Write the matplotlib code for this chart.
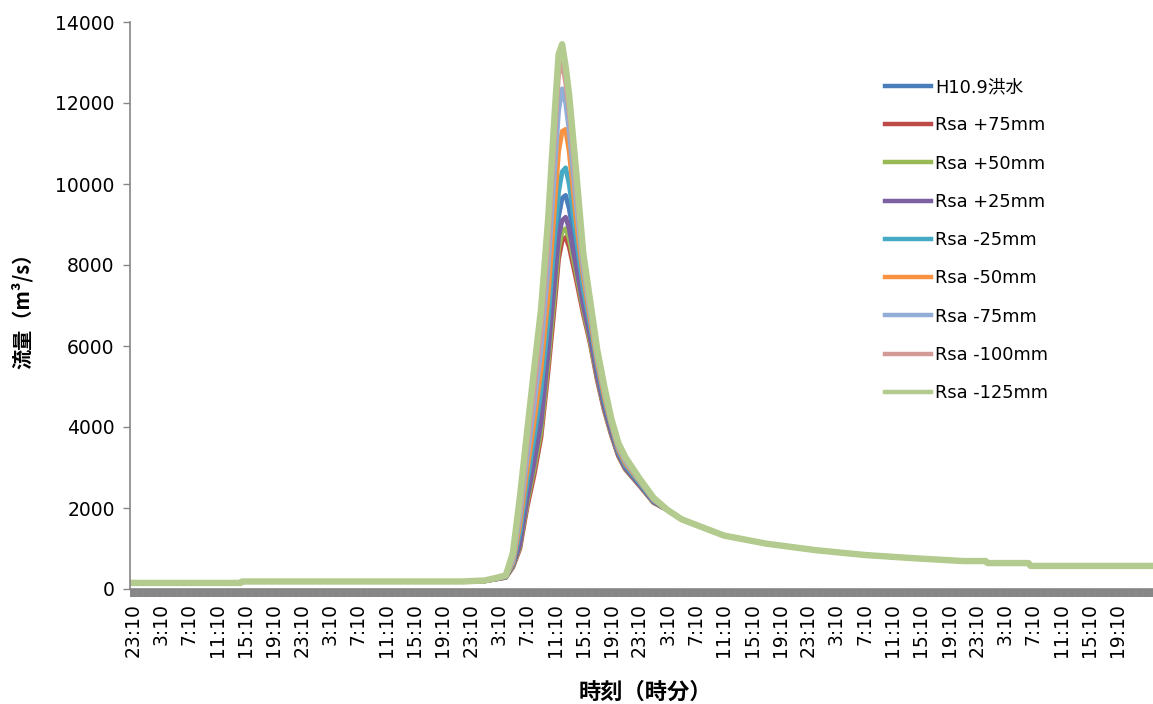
import numpy as np
import matplotlib
matplotlib.use("Agg")
import matplotlib.pyplot as plt
from matplotlib.ticker import MultipleLocator

# hours after 23:10 on the first day
t_before = [0.0, 15.3, 15.5, 47.0, 48.0]
q_before = [150, 150, 185, 185, 195]

t_event = [50, 52, 53, 54, 55, 56, 57, 58, 59, 60, 60.5, 61, 61.5, 62,
           63, 64, 65, 66, 67, 68, 69, 70, 72, 74]

q_h109 = [200, 262, 300, 600, 1250, 2400, 3400, 4500, 6200, 8200, 9200, 9650, 9720, 9400,
          8300, 7200, 6350, 5350, 4550, 3900, 3350, 3000, 2590, 2160]
q_p75 = [200, 255, 285, 540, 1000, 2000, 2800, 3750, 5350, 7150, 8150, 8600, 8680, 8450,
         7650, 6800, 6050, 5150, 4400, 3800, 3280, 2950, 2550, 2130]
q_p50 = [200, 258, 290, 560, 1050, 2100, 2950, 3900, 5550, 7400, 8400, 8820, 8900, 8650,
         7800, 6900, 6100, 5200, 4430, 3820, 3300, 2960, 2560, 2140]
q_p25 = [200, 260, 295, 580, 1100, 2200, 3100, 4100, 5800, 7700, 8700, 9100, 9180, 8900,
         7950, 7000, 6200, 5250, 4480, 3850, 3320, 2980, 2570, 2150]
q_m25 = [200, 265, 300, 620, 1400, 2600, 3700, 4900, 6600, 8800, 9800, 10300, 10400, 10000,
         8700, 7400, 6500, 5500, 4650, 4000, 3400, 3050, 2620, 2180]
q_m50 = [200, 270, 310, 650, 1600, 2900, 4100, 5400, 7200, 9600, 10800, 11300, 11350, 10800,
         9100, 7700, 6650, 5600, 4750, 4050, 3450, 3100, 2660, 2200]
q_m75 = [205, 275, 320, 700, 1800, 3200, 4500, 5900, 7900, 10500, 11800, 12350, 12000, 11300,
         9500, 7900, 6800, 5700, 4850, 4100, 3500, 3150, 2680, 2210]
q_m100 = [205, 280, 330, 780, 2000, 3500, 4900, 6400, 8500, 11300, 12700, 13000, 12500, 11800,
          9900, 8100, 6950, 5800, 4900, 4150, 3550, 3200, 2710, 2230]
q_m125 = [210, 290, 340, 890, 2270, 3850, 5400, 6900, 9100, 11900, 13200, 13450, 12900, 12200,
          10300, 8300, 7100, 5900, 5000, 4200, 3600, 3250, 2730, 2250]

t_after = [76, 78, 84, 90, 97, 104, 111, 118, 121.2, 121.5, 127.3, 127.6, 145.5]
q_after = [1950, 1720, 1320, 1120, 960, 840, 760, 690, 690, 640, 640, 570, 570]

series_names = ["H10.9洪水", "Rsa +75mm", "Rsa +50mm", "Rsa +25mm", "Rsa -25mm",
                "Rsa -50mm", "Rsa -75mm", "Rsa -100mm", "Rsa -125mm"]
series_values = [q_h109, q_p75, q_p50, q_p25, q_m25, q_m50, q_m75, q_m100, q_m125]
series_colors = ["#4A7EBB", "#BE4B48", "#98B954", "#7D60A0", "#46AAC5",
                 "#F69240", "#92AED6", "#D49A98", "#B3CB8E"]

tick_labels = ["23:10", "3:10", "7:10", "11:10", "15:10", "19:10"] * 6

cjk = ["Noto Sans CJK JP", "DejaVu Sans"]
latin_first = ["DejaVu Sans", "Noto Sans CJK JP"]

fig = plt.figure(figsize=(11.53, 7.04), dpi=100)
ax = fig.add_axes([130 / 1153, 1 - 589 / 704, 1 - 130 / 1153, 567 / 704])

for name, vals, color in zip(series_names, series_values, series_colors):
    t = t_before + t_event + t_after
    q = q_before + vals + q_after
    lw = 4.6 if name == "Rsa -125mm" else 3.4
    ax.plot(t, q, color=color, lw=lw, label=name, solid_joinstyle="round")

ax.set_ylim(0, 14000)
ax.set_xlim(-0.43, 145.0)
ax.yaxis.set_major_locator(MultipleLocator(2000))
ax.set_xticks(np.arange(len(tick_labels)) * 4)
ax.set_xticklabels(tick_labels, rotation=90)
ax.xaxis.set_minor_locator(MultipleLocator(1 / 6))

grey = "#868686"
for side in ("top", "right"):
    ax.spines[side].set_visible(False)
ax.spines["left"].set_color(grey)
ax.spines["bottom"].set_color(grey)
ax.spines["left"].set_linewidth(1.2)
ax.spines["bottom"].set_linewidth(1.2)
ax.tick_params(axis="y", colors=grey, length=5, width=1.0, labelcolor="black",
               labelsize=13.5, pad=6)
ax.tick_params(axis="x", which="both", colors=grey, length=6, width=1.4,
               labelcolor="black", labelsize=13.5, pad=4)

ax.set_ylabel("流量（m³/s）", family=cjk, fontsize=14.5, fontweight="bold")
ax.yaxis.set_label_coords(-0.095, 0.5)
fig.text(645 / 1153, 1 - 692 / 704, "時刻（時分）", family=cjk, fontsize=16,
         fontweight="bold", ha="center", va="center")

leg = ax.legend(loc="upper left", bbox_to_anchor=(885 / 1153, 1 - 78 / 704),
                bbox_transform=fig.transFigure, frameon=False, borderpad=0,
                borderaxespad=0, handlelength=2.6, handletextpad=0.2,
                labelspacing=1.14, prop={"family": latin_first, "size": 12.8})
for h in leg.get_lines():
    h.set_linewidth(3.2)

fig.savefig("out.png", dpi=100)
